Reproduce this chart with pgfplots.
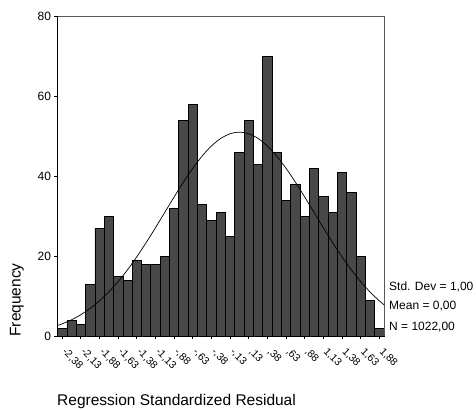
\documentclass[border=0pt]{standalone}
\usepackage{fontspec}
\setmainfont{Liberation Sans}
\usepackage{pgfplots}
\pgfplotsset{compat=1.18}
\definecolor{barfill}{HTML}{484848}
\begin{document}
\begin{tikzpicture}
\begin{axis}[
  at={(0pt,0pt)}, anchor=south west,
  scale only axis, width=326.5pt, height=320pt,
  xmin=-2.4375, xmax=1.9375, ymin=0, ymax=80,
  clip=false,
  axis x line*=bottom, axis y line*=left,
  axis line style={black, line width=1.1pt, -},
  ytick={0,20,40,60,80},
  xtick={-2.375,-2.125,-1.875,-1.625,-1.375,-1.125,-0.875,-0.625,-0.375,-0.125,0.125,0.375,0.625,0.875,1.125,1.375,1.625,1.875},
  xticklabels={{-2,38},{-2,13},{-1,88},{-1,63},{-1,38},{-1,13},{-,88},{-,63},{-,38},{-,13},{,13},{,38},{,63},{,88},{1,13},{1,38},{1,63},{1,88}},
  tick align=outside, major tick length=3pt,
  tick style={black, line width=0.8pt},
  yticklabel style={font=\fontsize{12}{14}\selectfont},
  xticklabel style={font=\fontsize{10.5}{12}\selectfont, inner sep=0pt, xshift=5pt, yshift=-8pt, rotate=-45, anchor=north west},
  /pgf/number format/assume math mode=true,
]
\addplot[ybar, bar width=0.125, bar shift=0pt, fill=barfill, draw=black, line width=0.6pt] coordinates {
(-2.375,2) (-2.25,4) (-2.125,3) (-2.0,13) (-1.875,27) (-1.75,30) (-1.625,15) (-1.5,14) (-1.375,19) (-1.25,18) (-1.125,18) (-1.0,20) (-0.875,32) (-0.75,54) (-0.625,58) (-0.5,33) (-0.375,29) (-0.25,31) (-0.125,25) (0.0,46) (0.125,54) (0.25,43) (0.375,70) (0.5,46) (0.625,34) (0.75,38) (0.875,30) (1.0,42) (1.125,35) (1.25,31) (1.375,41) (1.5,36) (1.625,20) (1.75,9) (1.875,2)
};
\addplot[black, line width=0.7pt, smooth, mark=none] coordinates {
(-2.4375,2.61) (-2.375,3.04) (-2.25,4.05) (-2.125,5.33) (-2,6.90) (-1.875,8.79) (-1.75,11.02) (-1.625,13.61) (-1.5,16.54) (-1.375,19.80) (-1.25,23.33) (-1.125,27.07) (-1,30.91) (-0.875,34.75) (-0.75,38.47) (-0.625,41.92) (-0.5,44.97) (-0.375,47.50) (-0.25,49.39) (-0.125,50.56) (0,50.96) (0.125,50.56) (0.25,49.39) (0.375,47.50) (0.5,44.97) (0.625,41.92) (0.75,38.47) (0.875,34.75) (1,30.91) (1.125,27.07) (1.25,23.33) (1.375,19.80) (1.5,16.54) (1.625,13.61) (1.75,11.02) (1.875,8.79) (1.9375,7.80)
};
\draw[gray!70!black, line width=0.6pt] (rel axis cs:0,1) -- (rel axis cs:1,1) -- (rel axis cs:1,0);
\end{axis}
\node[rotate=90, font=\fontsize{15.5}{18}\selectfont] at (-40.5pt,36pt) {Frequency};
\node[anchor=west, inner sep=0pt, font=\fontsize{15.5}{18}\selectfont] at (-0.5pt,-65.5pt) {Regression Standardized Residual};
\node[anchor=west, inner sep=0pt, font=\fontsize{12}{14}\selectfont] at (331.5pt,49.3pt) {Std. Dev = 1,00};
\node[anchor=west, inner sep=0pt, font=\fontsize{12}{14}\selectfont] at (331.5pt,30pt) {Mean = 0,00};
\node[anchor=west, inner sep=0pt, font=\fontsize{12}{14}\selectfont] at (331.5pt,9.3pt) {N = 1022,00};
\pgfresetboundingbox
\path[use as bounding box] (-57.5pt,-74pt) rectangle (418.5pt,336pt);
\end{tikzpicture}
\end{document}
